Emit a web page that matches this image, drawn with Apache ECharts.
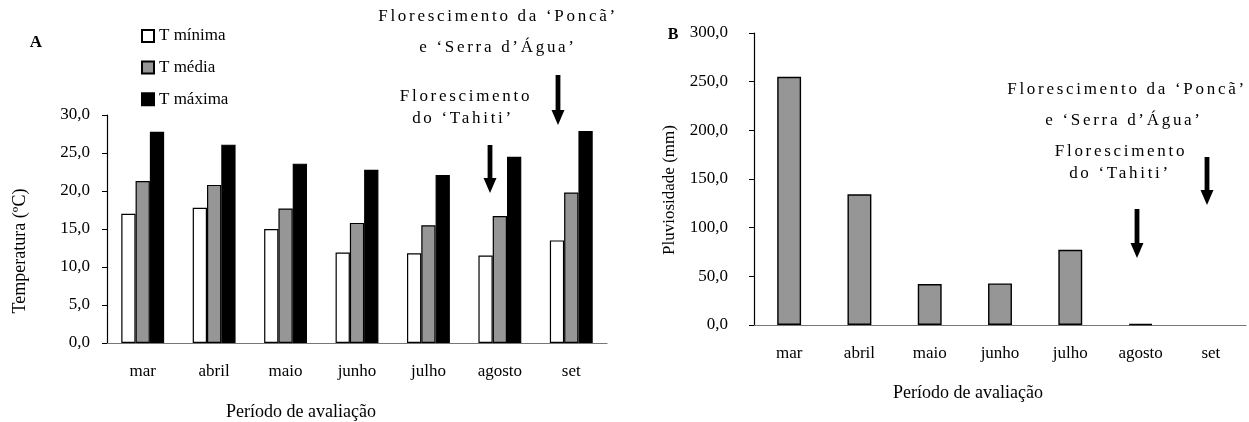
<!DOCTYPE html>
<html>
<head>
<meta charset="utf-8">
<script src="https://cdn.jsdelivr.net/npm/echarts@6/dist/echarts.min.js"></script>
<style>
  html, body { margin: 0; padding: 0; background: #fff; }
  #main { width: 1249px; height: 422px; }
</style>
</head>
<body>
<div id="main"></div>
<script>
var meses = ['mar', 'abril', 'maio', 'junho', 'julho', 'agosto', 'set'];
var tMinima = [17.0, 17.8, 15.0, 11.9, 11.8, 11.5, 13.5];
var tMedia = [21.3, 20.8, 17.7, 15.8, 15.5, 16.7, 19.8];
var tMaxima = [27.8, 26.1, 23.6, 22.8, 22.1, 24.5, 27.9];
var chuva = [255.0, 134.3, 42.1, 42.7, 77.2, 1.0, 0.0];

var fonte = '"Liberation Serif", "Times New Roman", serif';
var virgula = function (v) { return v.toFixed(1).replace('.', ','); };
// textos das setas; no original saem com letras espaçadas
var notas = ['Florescimento da ‘Poncã’', 'e ‘Serra d’Água’', 'Florescimento', 'do ‘Tahiti’'];

function trocaEspaco(ctx, valor) {
    var f = ctx.font;
    ctx.letterSpacing = valor;
    ctx.font = '10px serif';
    ctx.font = f;
}
var fillOrig = CanvasRenderingContext2D.prototype.fillText;
CanvasRenderingContext2D.prototype.fillText = function (t) {
    if (notas.indexOf(t) >= 0 && 'letterSpacing' in this) {
        trocaEspaco(this, '2.7px');
        fillOrig.apply(this, arguments);
        trocaEspaco(this, '0px');
    } else {
        fillOrig.apply(this, arguments);
    }
};

function seta(x, y1, y2) {
    return {
        type: 'group',
        children: [
            { type: 'rect', shape: { x: x - 2.4, y: y1, width: 4.8, height: y2 - y1 - 14 }, style: { fill: '#000' } },
            { type: 'polygon', shape: { points: [[x - 6.5, y2 - 15], [x + 6.5, y2 - 15], [x, y2]] }, style: { fill: '#000' } }
        ]
    };
}
function texto(t, x, y, size, peso) {
    return {
        type: 'text', x: x, y: y,
        style: { text: t, fill: '#000', fontFamily: fonte, fontSize: size, fontWeight: peso || 'normal', align: 'center', verticalAlign: 'middle' }
    };
}

var chart = echarts.init(document.getElementById('main'));
var eixoCat = {
    type: 'category',
    data: meses,
    axisLine: { lineStyle: { color: '#777', width: 1.2 } },
    axisTick: { length: 5, lineStyle: { color: '#333' } },
    axisLabel: { color: '#000', fontFamily: fonte, fontSize: 17, margin: 20 }
};
var chuvaDados = chuva.map(function (v) {
    return v === 0 ? { value: v, itemStyle: { borderWidth: 0 } } : v;
});

chart.setOption({
    animation: false,
    textStyle: { fontFamily: fonte },
    grid: [
        { left: 107, right: 642, top: 115, bottom: 79 },
        { left: 754, right: 3, top: 33, bottom: 97 }
    ],
    legend: {
        data: ['T mínima', 'T média', 'T máxima'],
        orient: 'vertical',
        left: 141,
        top: 27,
        padding: 0,
        icon: 'rect',
        itemWidth: 12,
        itemHeight: 12,
        itemGap: 13.6,
        textStyle: { fontFamily: fonte, fontSize: 17, color: '#000', lineHeight: 18 }
    },
    xAxis: [
        Object.assign({ gridIndex: 0 }, eixoCat),
        Object.assign({ gridIndex: 1 }, eixoCat)
    ],
    yAxis: [
        {
            gridIndex: 0, type: 'value', min: 0, max: 30, interval: 5,
            axisLine: { show: true, lineStyle: { color: '#000', width: 1.2 } },
            axisTick: { show: true, length: 5, lineStyle: { color: '#000' } },
            axisLabel: { color: '#000', fontFamily: fonte, fontSize: 17, margin: 17, formatter: virgula },
            splitLine: { show: false }
        },
        {
            gridIndex: 1, type: 'value', min: 0, max: 300, interval: 50,
            axisLine: { show: true, lineStyle: { color: '#000', width: 1.2 } },
            axisTick: { show: true, length: 5, lineStyle: { color: '#000' } },
            axisLabel: { color: '#000', fontFamily: fonte, fontSize: 17, margin: 26, formatter: virgula },
            splitLine: { show: false }
        }
    ],
    series: [
        { name: 'T mínima', type: 'bar', xAxisIndex: 0, yAxisIndex: 0, data: tMinima, barGap: '0%', barCategoryGap: '40%',
          itemStyle: { color: '#fff', borderColor: '#000', borderWidth: 1.2 } },
        { name: 'T média', type: 'bar', xAxisIndex: 0, yAxisIndex: 0, data: tMedia, barGap: '0%', barCategoryGap: '40%',
          itemStyle: { color: '#969696', borderColor: '#000', borderWidth: 1.2 } },
        { name: 'T máxima', type: 'bar', xAxisIndex: 0, yAxisIndex: 0, data: tMaxima, barGap: '0%', barCategoryGap: '40%',
          itemStyle: { color: '#000', borderColor: '#000', borderWidth: 1.2 } },
        { name: 'Pluviosidade', type: 'bar', xAxisIndex: 1, yAxisIndex: 1, data: chuvaDados, barCategoryGap: '66%',
          itemStyle: { color: '#969696', borderColor: '#000', borderWidth: 1.4 } }
    ],
    graphic: [
        texto('A', 36, 43, 17, 'bold'),
        texto('B', 673, 35, 16, 'bold'),
        { type: 'text', rotation: Math.PI / 2, x: 20, y: 251,
          style: { text: 'Temperatura (ºC)', fill: '#000', fontFamily: fonte, fontSize: 18, align: 'center', verticalAlign: 'middle' } },
        { type: 'text', rotation: Math.PI / 2, x: 670, y: 190,
          style: { text: 'Pluviosidade (mm)', fill: '#000', fontFamily: fonte, fontSize: 17, align: 'center', verticalAlign: 'middle' } },
        texto('Período de avaliação', 301, 412, 18),
        texto('Período de avaliação', 968, 393, 18),
        texto(notas[0], 498, 17, 17),
        texto(notas[1], 498, 48, 17),
        texto(notas[2], 466, 97, 17),
        texto(notas[3], 463, 119, 17),
        seta(558, 75, 125),
        seta(490, 145, 193),
        texto(notas[0], 1127, 90, 17),
        texto(notas[1], 1124, 121, 17),
        texto(notas[2], 1121, 152, 17),
        texto(notas[3], 1120, 174, 17),
        seta(1207, 157, 205),
        seta(1137, 209, 258)
    ]
});
</script>
</body>
</html>
